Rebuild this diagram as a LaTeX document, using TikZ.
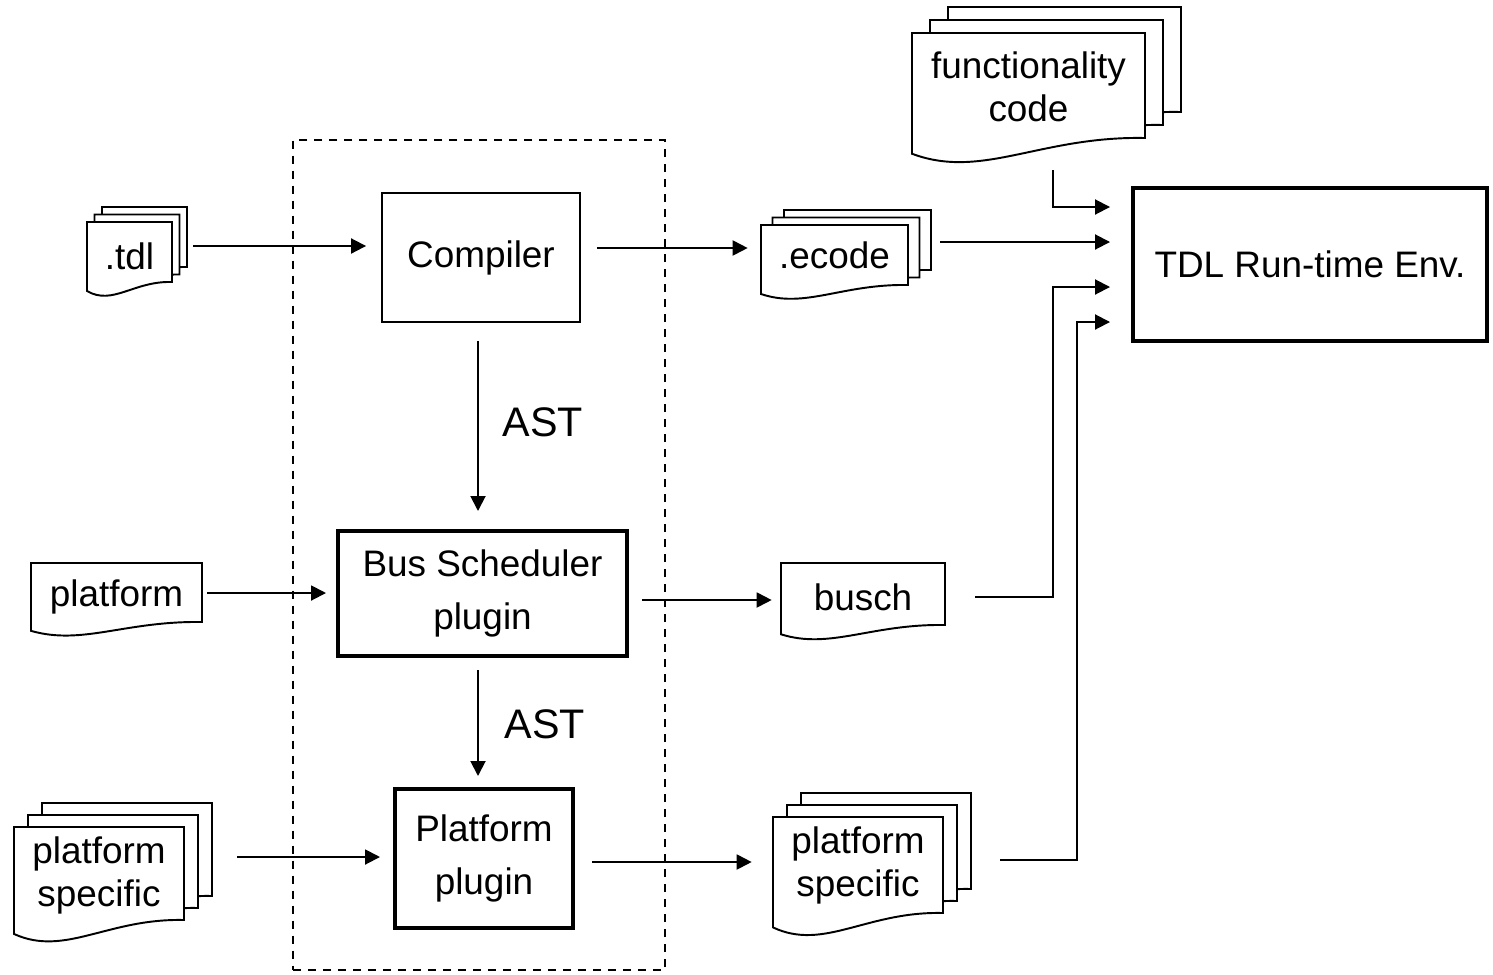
\documentclass[tikz,border=0pt]{standalone}
\usepackage{fontspec}
\setmainfont{Liberation Sans}
\usetikzlibrary{arrows.meta,calc,positioning,fit}

\tikzset{
  arr/.style={-{Triangle[length=0.3cm,width=0.3cm]},line width=1.1pt},
  sheet/.style={fill=white,draw,line width=1.1pt,line join=miter},
  docnode/.style={inner sep=0pt,align=center},
  toolbox/.style={draw,line width=1.1pt,align=center,inner sep=0pt},
  plugbox/.style={draw,line width=2.3pt,align=center,inner sep=0pt,font=\fontsize{21}{30}\selectfont},
  frame/.style={draw,line width=1.4pt,dash pattern=on 0.16cm off 0.14cm,inner sep=0pt},
  lbl/.style={font=\fontsize{23.5}{28}\selectfont},
}

% one sheet with wavy bottom: x1, y1, x2, y-right-bottom (pixels, y down)
\newcommand{\docsheet}[4]{%
  \pgfmathsetmacro{\xa}{#1}\pgfmathsetmacro{\ya}{#2}%
  \pgfmathsetmacro{\xb}{#3}\pgfmathsetmacro{\yb}{#4}%
  \pgfmathsetmacro{\dw}{\xb-\xa}\pgfmathsetmacro{\dh}{\yb-\ya}%
  \path[sheet] (\xa,\ya) -- (\xb,\ya) -- (\xb,\yb)
    .. controls ({\xa+0.55*\dw},{\yb-0.02*\dh}) and ({\xa+0.3*\dw},{\yb+0.4*\dh})
    .. (\xa,{\yb+0.15*\dh}) -- cycle;}
% three sheets, shifted by dx, dy
\newcommand{\docstack}[6]{%
  \docsheet{#1+2*#5}{#2-2*#6}{#3+2*#5}{#4-2*#6}%
  \docsheet{#1+#5}{#2-#6}{#3+#5}{#4-#6}%
  \docsheet{#1}{#2}{#3}{#4}}

\begin{document}
\begin{tikzpicture}[x=0.02cm,y=-0.02cm,font=\fontsize{21}{24.5}\selectfont]
  \useasboundingbox (0,0) rectangle (1493,974);

  % documents
  \docstack{87}{222}{172}{282}{7.5}{7.5}
  \node[docnode,minimum width=1.7cm,minimum height=1.2cm] (tdl) at (129.5,256) {.tdl};
  \docstack{912}{33}{1145}{138}{18}{13}
  \node[docnode,minimum width=4.66cm,minimum height=2.1cm] (func) at (1028.5,86.5) {functionality\\code};
  \docstack{761}{225}{908}{285}{11.5}{7.5}
  \node[docnode,minimum width=2.94cm,minimum height=1.2cm] (ecode) at (834.5,255) {.ecode};
  \docsheet{31}{563}{202}{622}
  \node[docnode,minimum width=3.42cm,minimum height=1.18cm] (pform) at (116.5,597) {platform};
  \docsheet{781}{563}{945}{625}
  \node[docnode,minimum width=3.28cm,minimum height=1.24cm] (busch) at (863,597) {busch};
  \docstack{14}{827}{184}{920}{14}{12}
  \node[docnode,minimum width=3.4cm,minimum height=1.86cm] (pspecin) at (99,875) {platform\\specific};
  \docstack{773}{817}{943}{913}{14}{12}
  \node[docnode,minimum width=3.4cm,minimum height=1.92cm] (pspecout) at (858,865) {platform\\specific};

  % tool chain
  \node[frame,fit={(293,140) (665,970)}] (chain) {};
  \node[toolbox,minimum width=3.96cm,minimum height=2.58cm] (comp) at (481,257.5) {Compiler};
  \node[plugbox,minimum width=5.78cm,minimum height=2.5cm] (bus) at (482.5,593.5) {Bus Scheduler\\plugin};
  \node[plugbox,minimum width=3.56cm,minimum height=2.78cm] (plat) at (484,858.5) {Platform\\plugin};
  \node[plugbox,font=\fontsize{21}{24}\selectfont,minimum width=7.08cm,minimum height=3.06cm] (env) at (1310,264.5) {TDL Run-time Env.};

  \node[lbl] (ast1) at (543,422) {AST};
  \node[lbl] (ast2) at (545,724) {AST};

  % connectors
  \draw[arr,shorten >=0.3cm] ([shift={(21,-10)}]tdl.east) coordinate (p) -- (p -| comp.west);
  \draw[arr,shorten >=0.26cm] ([shift={(16,-9.5)}]comp.east) coordinate (p) -- (p -| ecode.west);
  \draw[arr,shorten >=0.42cm] ([shift={(32,-13)}]ecode.east) coordinate (p) -- (p -| env.west);
  \draw[arr,shorten >=0.42cm] ([shift={(24.5,31)}]func.south) |- ([shift={(0,-57.5)}]env.west);
  \draw[arr,shorten >=0.42cm] ([shift={(30,0)}]busch.east) -- ++(78,0) |- ([shift={(0,22.5)}]env.west);
  \draw[arr,shorten >=0.42cm] ([shift={(57,-5)}]pspecout.east) -- ++(77,0) |- ([shift={(0,57.5)}]env.west);
  \draw[arr,shorten >=0.36cm] ([shift={(-3,18)}]comp.south) coordinate (p) -- (p |- bus.north);
  \draw[arr,shorten >=0.22cm] ([shift={(-4.5,12)}]bus.south) coordinate (p) -- (p |- plat.north);
  \draw[arr,shorten >=0.2cm] ([shift={(5,-4)}]pform.east) coordinate (p) -- (p -| bus.west);
  \draw[arr,shorten >=0.18cm] ([shift={(13,6.5)}]bus.east) coordinate (p) -- (p -| busch.west);
  \draw[arr,shorten >=0.26cm] ([shift={(53,-18)}]pspecin.east) coordinate (p) -- (p -| plat.west);
  \draw[arr,shorten >=0.42cm] ([shift={(17,3.5)}]plat.east) coordinate (p) -- (p -| pspecout.west);
\end{tikzpicture}
\end{document}
